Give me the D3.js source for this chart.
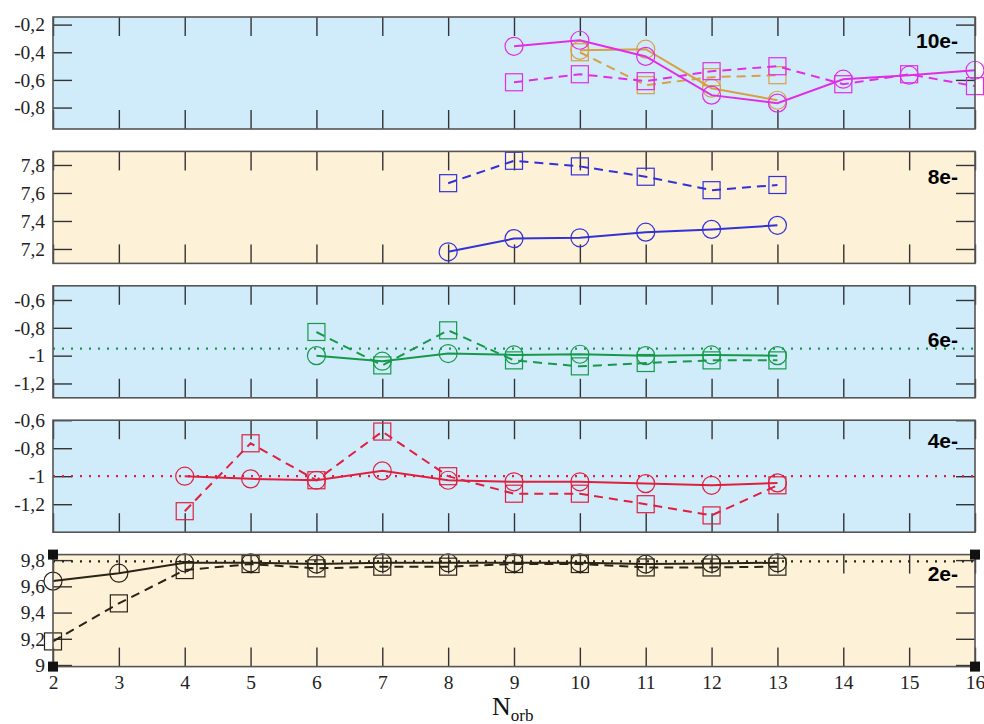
<!DOCTYPE html>
<html>
<head>
<meta charset="utf-8">
<script src="https://cdn.jsdelivr.net/npm/d3@7"></script>
<style>
  body { margin: 0; background: #fff; }
  svg { display: block; }
</style>
</head>
<body>
<div id="chart"></div>
<script>
// N_orb values along the shared x axis
var norb_ticks = [2, 3, 4, 5, 6, 7, 8, 9, 10, 11, 12, 13, 14, 15, 16];

// 10e-
var x10 = [9, 10, 11, 12, 13, 14, 15, 16];
var e10_circ = [-0.357, -0.313, -0.43, -0.71, -0.768, -0.595, -0.566, -0.53];
var e10_sq = [-0.617, -0.559, -0.609, -0.537, -0.501, -0.631, -0.559, -0.645];
var x10b = [10, 11, 12, 13];
var e10b_circ = [-0.386, -0.378, -0.66, -0.747];
var e10b_sq = [-0.40, -0.638, -0.58, -0.566];

// 8e-
var x8 = [8, 9, 10, 11, 12, 13];
var e8_circ = [7.18, 7.274, 7.28, 7.32, 7.34, 7.369];
var e8_sq = [7.67, 7.83, 7.79, 7.716, 7.62, 7.657];

// 6e-
var x6 = [6, 7, 8, 9, 10, 11, 12, 13];
var e6_circ = [-1.0, -1.04, -0.985, -0.995, -0.99, -1.0, -0.995, -1.0];
var e6_sq = [-0.83, -1.07, -0.818, -1.034, -1.077, -1.053, -1.034, -1.034];
var e6_ref = -0.95;

// 4e-
var x4 = [4, 5, 6, 7, 8, 9, 10, 11, 12, 13];
var e4_circ = [-1.0, -1.019, -1.029, -0.962, -1.029, -1.04, -1.04, -1.053, -1.065, -1.048];
var e4_sq = [-1.25, -0.765, -1.029, -0.681, -1.0, -1.125, -1.125, -1.2, -1.28, -1.065];
var e4_ref = -1.0;

// 2e-
var x2 = [2, 3, 4, 5, 6, 7, 8, 9, 10, 11, 12, 13];
var e2_circ = [9.64, 9.70, 9.78, 9.78, 9.77, 9.78, 9.78, 9.78, 9.78, 9.77, 9.775, 9.78];
var e2_sq = [9.18, 9.47, 9.724, 9.77, 9.737, 9.75, 9.75, 9.77, 9.77, 9.744, 9.744, 9.75];
var e2_ref = 9.79;

// panel labels and y ticks
var panel_labels = ["10e-", "8e-", "6e-", "4e-", "2e-"];
var y_ticks = [
    [-0.8, -0.6, -0.4, -0.2],
    [7.2, 7.4, 7.6, 7.8],
    [-1.2, -1, -0.8, -0.6],
    [-1.2, -1, -0.8, -0.6],
    [9, 9.2, 9.4, 9.6, 9.8]
];
var y_domains = [
    [-0.955, -0.145],
    [7.097, 7.897],
    [-1.303, -0.498],
    [-1.4, -0.6],
    [8.988, 9.842]
];

var BLUE_BG = "#d0ecfb",
    CREAM_BG = "#fdf1d8",
    MAGENTA = "#e02ee6",
    ORANGE = "#d7a044",
    BLUE = "#3232d6",
    GREEN = "#17994a",
    RED = "#df1f3e",
    BLACK = "#2a2418";

var panel_bg = [BLUE_BG, CREAM_BG, BLUE_BG, BLUE_BG, CREAM_BG];
var label_dy = [31, 33, 61, 28, 26];

var series = [
    {p: 0, xs: x10b, ys: e10b_sq, color: ORANGE, dash: "9,6", marker: "square"},
    {p: 0, xs: x10b, ys: e10b_circ, color: ORANGE, dash: null, marker: "circle"},
    {p: 0, xs: x10, ys: e10_sq, color: MAGENTA, dash: "9,6", marker: "square"},
    {p: 0, xs: x10, ys: e10_circ, color: MAGENTA, dash: null, marker: "circle"},
    {p: 1, xs: x8, ys: e8_sq, color: BLUE, dash: "9,6", marker: "square"},
    {p: 1, xs: x8, ys: e8_circ, color: BLUE, dash: null, marker: "circle"},
    {p: 2, xs: x6, ys: e6_sq, color: GREEN, dash: "9,6", marker: "square"},
    {p: 2, xs: x6, ys: e6_circ, color: GREEN, dash: null, marker: "circle"},
    {p: 3, xs: x4, ys: e4_sq, color: RED, dash: "9,6", marker: "square"},
    {p: 3, xs: x4, ys: e4_circ, color: RED, dash: null, marker: "circle"},
    {p: 4, xs: x2, ys: e2_sq, color: BLACK, dash: "9,6", marker: "square"},
    {p: 4, xs: x2, ys: e2_circ, color: BLACK, dash: null, marker: "circle"}
];
var refs = [
    {p: 2, y: e6_ref, color: GREEN},
    {p: 3, y: e4_ref, color: RED},
    {p: 4, y: e2_ref, color: BLACK}
];

var W = 984, H = 724;
var margin = {left: 53, right: 9},
    panel_top = 17,
    panel_step = 134.4,
    panel_h = 112,
    tick_len = 19;

var svg = d3.select("#chart").append("svg")
    .attr("width", W)
    .attr("height", H);

var xScale = d3.scaleLinear().domain([2, 16]).range([margin.left, W - margin.right]);

function fmt(v) {
    return String(+v.toFixed(1)).replace(".", ",");
}

var panels = [];
for (var i = 0; i < 5; i++) {
    var panelY = panel_top + i * panel_step;
    var yScale = d3.scaleLinear().domain(y_domains[i]).range([panelY + panel_h, panelY]);
    panels.push({top: panelY, y: yScale});

    var g = svg.append("g").attr("class", "panel");

    g.append("rect")
        .attr("x", xScale(2))
        .attr("y", panelY)
        .attr("width", xScale(16) - xScale(2))
        .attr("height", panel_h)
        .style("fill", panel_bg[i]);

    // inward ticks on all four sides
    var leftAx = g.append("g")
        .attr("transform", "translate(" + xScale(2) + ",0)")
        .call(d3.axisLeft(yScale).tickValues(y_ticks[i]).tickSize(-tick_len).tickPadding(8).tickFormat(fmt));
    var rightAx = g.append("g")
        .attr("transform", "translate(" + xScale(16) + ",0)")
        .call(d3.axisRight(yScale).tickValues(y_ticks[i]).tickSize(-tick_len).tickFormat(""));
    var topAx = g.append("g")
        .attr("transform", "translate(0," + panelY + ")")
        .call(d3.axisTop(xScale).tickValues(norb_ticks).tickSize(-tick_len).tickFormat(""));
    var bottomAx = g.append("g")
        .attr("transform", "translate(0," + (panelY + panel_h) + ")")
        .call(d3.axisBottom(xScale).tickValues(norb_ticks).tickSize(-tick_len).tickPadding(9)
            .tickFormat(i === 4 ? d3.format("d") : ""));

    [leftAx, rightAx, topAx, bottomAx].forEach(function(ax) {
        ax.select(".domain").remove();
        ax.selectAll(".tick line").style("stroke", "#333").style("stroke-width", 1.4);
        ax.selectAll(".tick text")
            .style("font-family", "'Liberation Serif', 'DejaVu Serif', serif")
            .style("font-size", "19.5px")
            .style("fill", "#222");
    });

    panels[i].g = g;
}

// reference dotted lines
refs.forEach(function(r) {
    var P = panels[r.p];
    P.g.append("line")
        .attr("x1", xScale(2))
        .attr("x2", xScale(16))
        .attr("y1", P.y(r.y))
        .attr("y2", P.y(r.y))
        .style("stroke", r.color)
        .style("stroke-width", 2.2)
        .style("stroke-dasharray", "2,7");
});

// series lines and markers
series.forEach(function(s) {
    var P = panels[s.p];
    var pts = s.xs.map(function(x, k) { return {x: x, y: s.ys[k]}; });
    var line = d3.line()
        .x(function(d) { return xScale(d.x); })
        .y(function(d) { return P.y(d.y); });

    P.g.append("path")
        .attr("d", line(pts))
        .style("fill", "none")
        .style("stroke", s.color)
        .style("stroke-width", 2)
        .style("stroke-dasharray", s.dash);

    if (s.marker === "circle") {
        P.g.selectAll(null).data(pts).enter().append("circle")
            .attr("cx", function(d) { return xScale(d.x); })
            .attr("cy", function(d) { return P.y(d.y); })
            .attr("r", 9)
            .style("fill", "none")
            .style("stroke", s.color)
            .style("stroke-width", 1.2);
    } else {
        P.g.selectAll(null).data(pts).enter().append("rect")
            .attr("x", function(d) { return xScale(d.x) - 8.5; })
            .attr("y", function(d) { return P.y(d.y) - 8.5; })
            .attr("width", 17)
            .attr("height", 17)
            .style("fill", "none")
            .style("stroke", s.color)
            .style("stroke-width", 1.2);
    }
});

// frames and labels
panels.forEach(function(P, i) {
    P.g.append("rect")
        .attr("x", xScale(2))
        .attr("y", P.top)
        .attr("width", xScale(16) - xScale(2))
        .attr("height", panel_h)
        .style("fill", "none")
        .style("stroke", "#555")
        .style("stroke-width", 1.6);

    P.g.append("text")
        .attr("x", 958)
        .attr("y", P.top + label_dy[i])
        .attr("text-anchor", "end")
        .style("font-family", "'Liberation Sans', Arial, sans-serif")
        .style("font-weight", "bold")
        .style("font-size", "21px")
        .style("fill", "#000")
        .text(panel_labels[i]);
});

// selection handles on the bottom panel
var lastPanel = panels[4];
var corners = [[2, 0], [2, 1], [16, 0], [16, 1]];
svg.selectAll(".handle").data(corners).enter().append("rect")
    .attr("class", "handle")
    .attr("x", function(d) { return xScale(d[0]) - 5; })
    .attr("y", function(d) { return (d[1] ? lastPanel.top + panel_h : lastPanel.top) - 5; })
    .attr("width", 10)
    .attr("height", 10)
    .style("fill", "#111");

// x axis title
var xt = svg.append("text")
    .attr("x", 492)
    .attr("y", 715)
    .style("font-family", "'Liberation Serif', 'DejaVu Serif', serif")
    .style("font-size", "26px")
    .style("fill", "#111")
    .text("N");
xt.append("tspan")
    .attr("dy", 6)
    .style("font-size", "17px")
    .text("orb");
</script>
</body>
</html>
